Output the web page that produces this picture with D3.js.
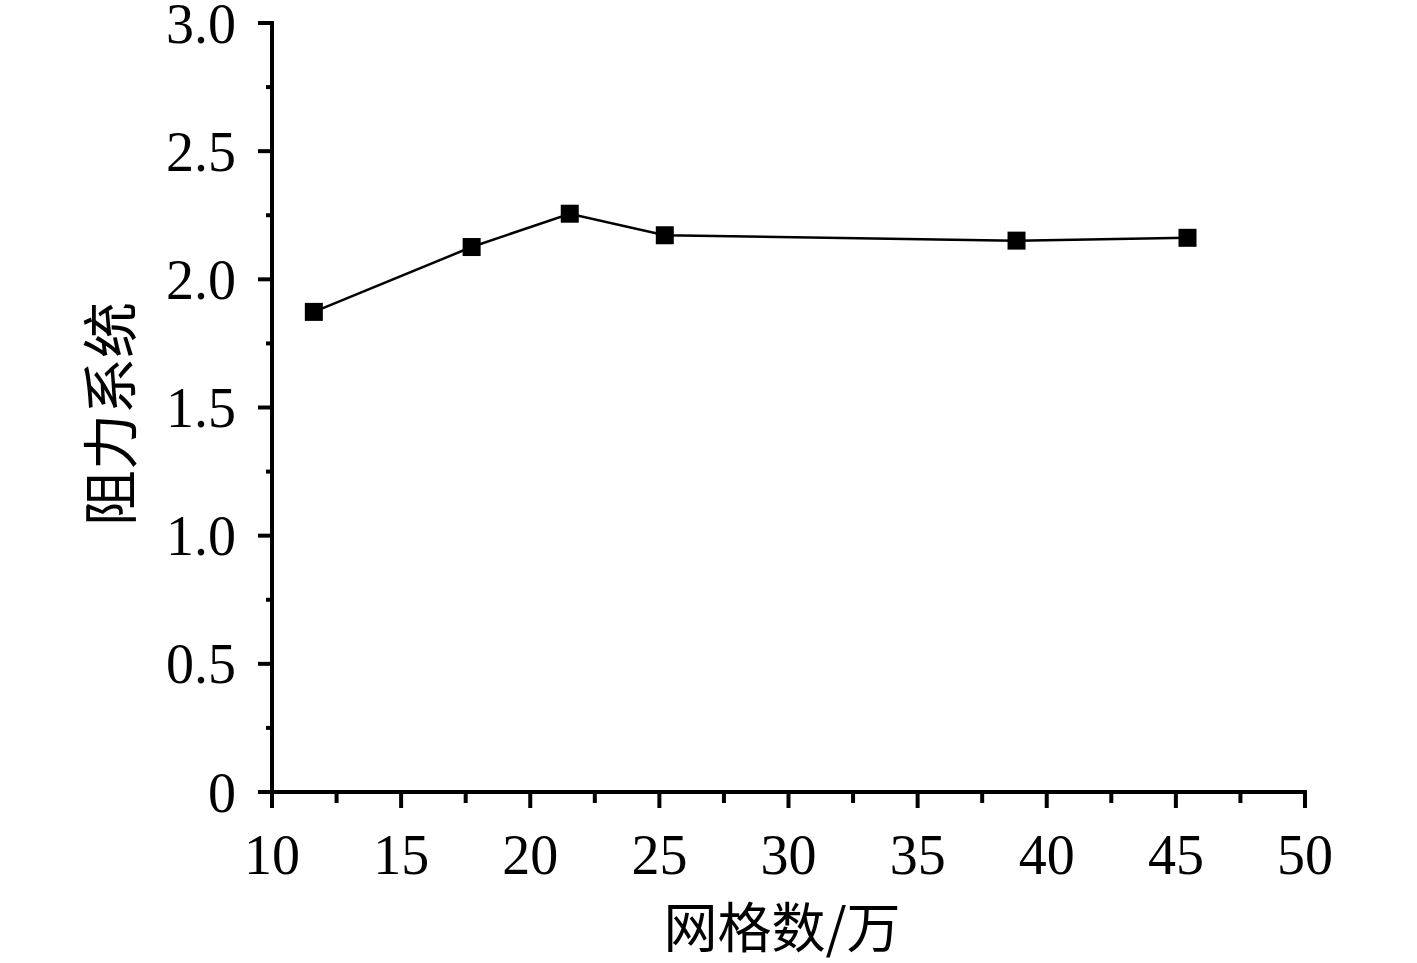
<!DOCTYPE html>
<html><head><meta charset="utf-8">
<script src="https://cdn.jsdelivr.net/npm/d3@7"></script>
<style>body{margin:0;background:#fff}svg{display:block}</style>
</head><body>
<svg id="c" width="1417" height="963"></svg>
<script>
const xValues = [11.62, 17.73, 21.53, 25.21, 38.83, 45.45];
const yValues = [1.873, 2.126, 2.256, 2.172, 2.151, 2.162];
const xTicks = [10, 15, 20, 25, 30, 35, 40, 45, 50];
const yTicks = [0, 0.5, 1.0, 1.5, 2.0, 2.5, 3.0];
const yTickLabels = ["0", "0.5", "1.0", "1.5", "2.0", "2.5", "3.0"];
const xTitle = "网格数/万";
const yTitle = "阻力系统";

const svg = d3.select("#c");
const L = 272, R = 1305, T = 23, B = 792;
const x = d3.scaleLinear().domain([10, 50]).range([L, R]);
const y = d3.scaleLinear().domain([0, 3]).range([B, T]);
const serif = "'Liberation Serif','Times New Roman',serif";

// x axis
const xMinor = d3.range(12.5, 50, 5);
const gx = svg.append("g");
gx.append("line").attr("x1", L - 2).attr("x2", R + 2).attr("y1", B).attr("y2", B)
  .attr("stroke", "#000").attr("stroke-width", 4);
gx.selectAll(".mj").data(xTicks).join("line")
  .attr("x1", d => x(d)).attr("x2", d => x(d)).attr("y1", B).attr("y2", B + 16)
  .attr("stroke", "#000").attr("stroke-width", 4);
gx.selectAll(".mn").data(xMinor).join("line")
  .attr("x1", d => x(d)).attr("x2", d => x(d)).attr("y1", B).attr("y2", B + 11)
  .attr("stroke", "#000").attr("stroke-width", 4);
gx.selectAll("text").data(xTicks).join("text")
  .attr("x", d => x(d)).attr("y", 874).attr("text-anchor", "middle")
  .attr("font-family", serif).attr("font-size", 56).text(d => d);

// y axis
const yMinor = d3.range(0.25, 3, 0.5);
const gy = svg.append("g");
gy.append("line").attr("x1", L).attr("x2", L).attr("y1", T - 2).attr("y2", B + 2)
  .attr("stroke", "#000").attr("stroke-width", 4);
gy.selectAll(".mj").data(yTicks).join("line")
  .attr("x1", L - 14).attr("x2", L).attr("y1", d => y(d)).attr("y2", d => y(d))
  .attr("stroke", "#000").attr("stroke-width", 4);
gy.selectAll(".mn").data(yMinor).join("line")
  .attr("x1", L - 6).attr("x2", L).attr("y1", d => y(d)).attr("y2", d => y(d))
  .attr("stroke", "#000").attr("stroke-width", 4);
gy.selectAll("text").data(yTicks).join("text")
  .attr("x", 236).attr("y", d => y(d)).attr("dy", "0.35em").attr("text-anchor", "end")
  .attr("font-family", serif).attr("font-size", 56).text((d, i) => yTickLabels[i]);

// titles
svg.append("text").attr("x", 782).attr("y", 948).attr("text-anchor", "middle")
  .attr("font-family", "'Noto Sans CJK SC',sans-serif").attr("font-size", 54).text(xTitle);
svg.append("text").attr("transform", "translate(131,414) rotate(-90)").attr("text-anchor", "middle")
  .attr("font-family", "'Noto Sans CJK SC',sans-serif").attr("font-size", 56).text(yTitle);

// series
const pts = xValues.map((v, i) => [v, yValues[i]]);
svg.append("path").datum(pts)
  .attr("d", d3.line().x(d => x(d[0])).y(d => y(d[1])))
  .attr("fill", "none").attr("stroke", "#000").attr("stroke-width", 2.5);
const s = 18;
svg.selectAll(".m").data(pts).join("rect")
  .attr("x", d => x(d[0]) - s / 2).attr("y", d => y(d[1]) - s / 2)
  .attr("width", s).attr("height", s).attr("fill", "#000");
</script>
</body></html>
